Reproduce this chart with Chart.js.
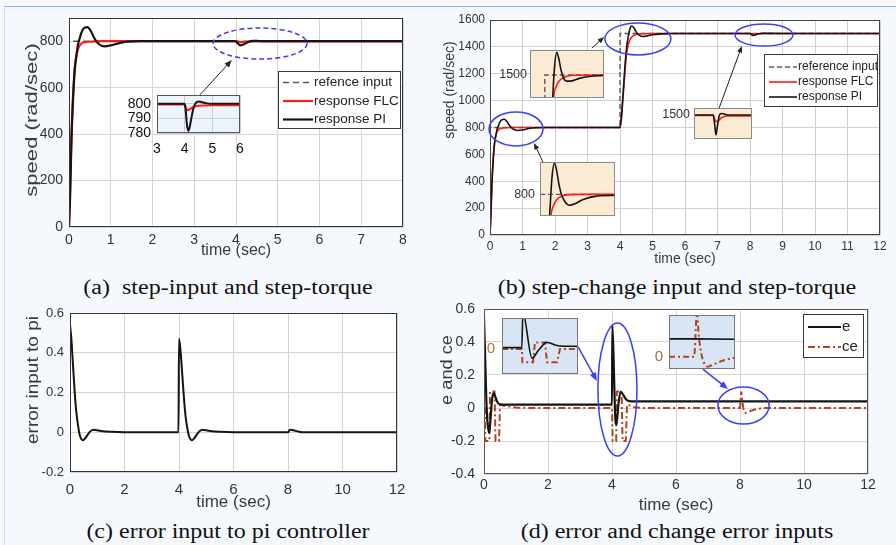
<!DOCTYPE html>
<html>
<head>
<meta charset="utf-8">
<title>speed response</title>
<script src="https://cdn.jsdelivr.net/npm/chart.js@4.4.1/dist/chart.umd.min.js"></script>
<style>
  html, body { margin: 0; padding: 0; }
  body { width: 896px; height: 545px; overflow: hidden; position: relative; background: #f5f9fd; }
  #frame { position: absolute; left: 4px; top: 6px; width: 892px; height: 539px; border-top: 1px solid #8db4e6; border-left: 1px solid #c8dbf0; }
  canvas { position: absolute; }
  .cap { position: absolute; transform: translate(-50%, -50%) scaleX(1.2); font-family: "Liberation Serif", "Times New Roman", serif; font-size: 20px; line-height: 1; color: #111; white-space: nowrap; }
</style>
</head>
<body>
<div id="frame"></div>
<div class="cap" style="left:228px;top:287px">(a)&nbsp; step-input and step-torque</div>
<div class="cap" style="left:677px;top:287px">(b) step-change input and step-torque</div>
<div class="cap" style="left:228px;top:531px">(c) error input to pi controller</div>
<div class="cap" style="left:677px;top:531px">(d) error and change error inputs</div>
<script>
// (a) step input, torque step at 4 s
const tRefA = [0, 0, 8];
const vRefA = [0, 800, 800];
const tFlcA = [0, 0.03, 0.06, 0.1, 0.14, 0.18, 0.22, 0.27, 0.32, 0.4, 0.5, 0.65, 0.8, 4.0, 4.06, 4.12, 4.25, 4.45, 4.8, 8];
const vFlcA = [0, 200, 400, 580, 690, 740, 768, 785, 792, 796, 798, 799.5, 800, 800, 797, 796.5, 797.8, 798.8, 799.5, 799.6];
const tPiA = [0, 0.03, 0.06, 0.1, 0.14, 0.18, 0.22, 0.26, 0.3, 0.35, 0.44, 0.52, 0.6, 0.7, 0.85, 1.0, 1.2, 1.4, 1.7, 3.98, 4.04, 4.1, 4.18, 4.28, 4.4, 4.55, 4.8, 8];
const vPiA = [0, 150, 380, 560, 680, 740, 790, 815, 838, 855, 861, 845, 815, 790, 778, 782, 792, 798, 800, 800, 792, 782, 786, 796, 801.5, 801, 800, 800];
// inset of (a): 3..6 s
const tFlcAz = [3, 4.0, 4.05, 4.12, 4.2, 4.3, 4.45, 4.7, 5.0, 6];
const vFlcAz = [799.5, 799.5, 797, 795.5, 796.5, 797.6, 798.5, 798.9, 799, 799];
const tPiAz = [3, 4.0, 4.04, 4.08, 4.13, 4.18, 4.25, 4.32, 4.4, 4.5, 4.6, 4.75, 4.95, 6];
const vPiAz = [800, 800, 795, 786, 781.5, 784, 791, 797, 800.5, 801.6, 801.2, 800.5, 800, 800];
const xTicksA = [0, 1, 2, 3, 4, 5, 6, 7, 8];
const yTicksA = [0, 200, 400, 600, 800];
const xTicksAz = [3, 4, 5, 6];
const yTicksAz = [780, 790, 800];

// (b) step change 800 -> 1500 at 4 s, torque step at 8 s
const tRefB = [0, 0, 4, 4, 12];
const vRefB = [0, 800, 800, 1500, 1500];
const tFlcB = [0, 0.03, 0.06, 0.1, 0.14, 0.18, 0.22, 0.27, 0.32, 0.4, 0.5, 0.65, 0.8, 4.0, 4.04, 4.08, 4.12, 4.16, 4.2, 4.25, 4.3, 4.38, 4.5, 4.7, 5.0, 8.0, 8.05, 8.15, 8.3, 8.6, 12];
const vFlcB = [0, 200, 400, 580, 690, 740, 768, 785, 792, 796, 798, 799.5, 800, 800, 860, 980, 1110, 1240, 1340, 1410, 1450, 1478, 1492, 1498, 1500, 1500, 1497, 1496.5, 1498.5, 1499.8, 1500];
const tPiB = [0, 0.03, 0.06, 0.1, 0.14, 0.18, 0.22, 0.26, 0.3, 0.35, 0.44, 0.52, 0.6, 0.7, 0.85, 1.0, 1.2, 1.4, 1.7, 4.0, 4.04, 4.08, 4.12, 4.16, 4.2, 4.25, 4.3, 4.36, 4.42, 4.5, 4.6, 4.7, 4.85, 5.0, 5.3, 5.6, 8.0, 8.04, 8.1, 8.18, 8.28, 8.4, 8.6, 9, 12];
const vPiB = [0, 150, 380, 560, 680, 740, 790, 815, 838, 855, 861, 845, 815, 790, 778, 782, 792, 798, 800, 800, 870, 1000, 1140, 1280, 1390, 1470, 1530, 1555, 1545, 1510, 1485, 1477, 1482, 1490, 1497, 1500, 1500, 1493, 1485, 1490, 1498, 1501, 1500.5, 1500, 1500];
// insets of (b)
const tRefB1 = [3.7, 4.0, 4.0, 5.2];
const vRefB1 = [800, 800, 1500, 1500];
const tFlcB1 = [4.14, 4.18, 4.22, 4.26, 4.3, 4.36, 4.45, 4.6, 5.2];
const vFlcB1 = [1300, 1430, 1458, 1473, 1482, 1490, 1496, 1499, 1500];
const tPiB1 = [4.12, 4.16, 4.2, 4.24, 4.28, 4.33, 4.38, 4.45, 4.55, 4.7, 4.9, 5.2];
const vPiB1 = [1200, 1420, 1530, 1573, 1555, 1515, 1490, 1480, 1481, 1489, 1495, 1498];
const tRefB2 = [0.2, 1.7];
const vRefB2 = [800, 800];
const tFlcB2 = [0.38, 0.414, 0.45, 0.5, 0.55, 0.63, 0.73, 1.0, 1.7];
const vFlcB2 = [720, 756, 772, 784, 791, 796, 799, 800, 800];
const tPiB2 = [0.36, 0.4, 0.44, 0.49, 0.53, 0.58, 0.63, 0.7, 0.785, 0.9, 1.05, 1.3, 1.7];
const vPiB2 = [700, 770, 835, 864, 850, 820, 800, 785, 778, 781, 789, 796, 798];
const tFlcB3 = [7.5, 8.0, 8.05, 8.1, 8.2, 8.35, 9];
const vFlcB3 = [1499.5, 1499.5, 1494, 1493.5, 1497, 1499, 1499];
const tPiB3 = [7.5, 8.0, 8.03, 8.07, 8.11, 8.15, 8.2, 8.28, 8.4, 9];
const vPiB3 = [1500, 1500, 1492, 1480, 1490, 1499, 1501.5, 1501, 1500, 1500];
const xTicksB = [0, 1, 2, 3, 4, 5, 6, 7, 8, 9, 10, 11, 12];
const yTicksB = [0, 200, 400, 600, 800, 1000, 1200, 1400, 1600];

// (c) error input to pi
const tEC = [0, 0.05, 0.1, 0.15, 0.2, 0.25, 0.3, 0.35, 0.42, 0.48, 0.55, 0.65, 0.75, 0.88, 1.0, 1.2, 1.5, 2.0, 3.98, 4.0, 4.05, 4.1, 4.15, 4.2, 4.25, 4.3, 4.35, 4.42, 4.48, 4.55, 4.65, 4.75, 4.88, 5.0, 5.2, 5.5, 6.0, 8.0, 8.05, 8.12, 8.25, 8.4, 8.6, 12];
const vEC = [0.54, 0.47, 0.36, 0.25, 0.15, 0.08, 0.03, -0.01, -0.035, -0.04, -0.032, -0.012, 0.005, 0.012, 0.01, 0.005, 0.002, 0, 0, 0.47, 0.42, 0.33, 0.23, 0.14, 0.07, 0.025, -0.01, -0.035, -0.04, -0.032, -0.012, 0.005, 0.012, 0.01, 0.005, 0.002, 0, 0, 0.01, 0.013, 0.008, 0.003, 0, 0];
const xTicksC = [0, 2, 4, 6, 8, 10, 12];
const yTicksC = [-0.2, 0, 0.2, 0.4, 0.6];

// (d) e and ce
const tED = [0, 0.03, 0.07, 0.1, 0.16, 0.2, 0.25, 0.3, 0.35, 0.42, 0.5, 0.7, 4.0, 4.01, 4.05, 4.1, 4.14, 4.2, 4.27, 4.35, 4.45, 4.6, 12];
const vED = [0.545, 0.35, 0.07, -0.06, -0.15, -0.08, 0.05, 0.09, 0.07, 0.035, 0.022, 0.02, 0.02, 0.5, 0.3, -0.05, -0.1, 0.02, 0.1, 0.08, 0.05, 0.04, 0.04];
const tCeD = [0, 0.03, 0.04, 0.17, 0.19, 0.33, 0.36, 0.47, 0.5, 0.7, 1.0, 1.5, 4.0, 4.02, 4.13, 4.15, 4.3, 4.33, 4.43, 4.47, 4.7, 5.0, 8.0, 8.04, 8.08, 8.12, 8.18, 8.3, 8.45, 8.7, 12];
const vCeD = [0, 0, -0.2, -0.2, 0.1, 0.1, -0.2, -0.2, 0.02, 0.01, 0.003, 0, 0, -0.2, -0.2, 0.1, 0.1, -0.2, -0.2, 0.02, 0.005, 0, 0, 0.1, 0.03, -0.02, -0.03, -0.02, -0.01, 0, 0];
// insets of (d)
const tED1 = [3.7, 3.96, 3.975, 4.095, 4.18, 4.29, 4.4, 4.46, 4.7];
const vED1 = [0.02, 0.02, 0.55, -0.14, -0.02, 0.1, 0.06, 0.045, 0.04];
const tCeD1 = [3.7, 3.963, 3.968, 4.108, 4.134, 4.266, 4.292, 4.424, 4.463, 4.7];
const vCeD1 = [0, 0, -0.2, -0.2, 0.1, 0.1, -0.2, -0.2, 0, 0];
const tED2 = [7.6, 8.02, 8.6];
const vED2 = [0.04, 0.04, 0.039];
const tCeD2 = [7.6, 7.98, 8.024, 8.05, 8.1, 8.15, 8.18, 8.3, 8.45, 8.6];
const vCeD2 = [0, 0, 0.1, 0.05, 0.0, -0.018, -0.022, -0.015, -0.007, -0.002];
const xTicksD = [0, 2, 4, 6, 8, 10, 12];
const yTicksD = [-0.4, -0.2, 0, 0.2, 0.4, 0.6];

Chart.defaults.font.family = '"Liberation Sans", Arial, Helvetica, sans-serif';
const FONT = '"Liberation Sans", Arial, sans-serif';
const RED = '#ff1a1a', BLACK = '#141414', REF = '#5a5a5a', BROWN = '#b0451c', BLUE = '#3b3ff2';
const PAD = 22; // room round every plot so tick labels never push the plot area

const xy = (ts, vs) => ts.map((t, i) => ({ x: t, y: vs[i] }));
function line(label, ts, vs, color, width, extra) {
  return Object.assign({ label, data: xy(ts, vs), borderColor: color, borderWidth: width,
    pointRadius: 0, fill: false, tension: 0, clip: 0 }, extra || {});
}
const smooth = { cubicInterpolationMode: 'monotone' };

function arrow(ctx, x0, y0, x1, y1, color, width, head) {
  const a = Math.atan2(y1 - y0, x1 - x0);
  ctx.strokeStyle = color; ctx.fillStyle = color; ctx.lineWidth = width;
  ctx.beginPath(); ctx.moveTo(x0, y0);
  ctx.lineTo(x1 - Math.cos(a) * head * 0.7, y1 - Math.sin(a) * head * 0.7); ctx.stroke();
  ctx.beginPath(); ctx.moveTo(x1, y1);
  ctx.lineTo(x1 - head * Math.cos(a - 0.38), y1 - head * Math.sin(a - 0.38));
  ctx.lineTo(x1 - head * Math.cos(a + 0.38), y1 - head * Math.sin(a + 0.38));
  ctx.closePath(); ctx.fill();
}

function drawLegend(chart, d) {
  const L = d.legend, ctx = chart.ctx;
  const x = L.x - d.ox, y = L.y - d.oy;
  ctx.fillStyle = '#fff'; ctx.fillRect(x, y, L.w, L.h);
  ctx.strokeStyle = '#3a3a3a'; ctx.lineWidth = 1; ctx.strokeRect(x + 0.5, y + 0.5, L.w, L.h);
  ctx.font = L.size + 'px ' + FONT;
  ctx.textBaseline = 'middle'; ctx.textAlign = 'left';
  L.rows.forEach((i, k) => {
    const ds = chart.data.datasets[i], ry = y + L.first + k * L.gap;
    ctx.strokeStyle = ds.borderColor; ctx.lineWidth = ds.borderWidth; ctx.setLineDash(ds.borderDash || []);
    ctx.beginPath(); ctx.moveTo(x + L.l0, ry); ctx.lineTo(x + L.l1, ry); ctx.stroke();
    ctx.setLineDash([]); ctx.fillStyle = '#222'; ctx.fillText(ds.label, x + L.l1 + 1, ry);
  });
}

// rotated y-axis title, placed where the original figure has it
function drawYTitle(chart, d) {
  const T = d.yTitle, ctx = chart.ctx;
  ctx.save();
  ctx.translate(T.x - d.ox, T.y - d.oy);
  ctx.rotate(-Math.PI / 2);
  ctx.scale(T.stretch || 1, 1);
  ctx.font = T.size + 'px ' + FONT;
  ctx.fillStyle = '#3a3a3a'; ctx.textAlign = 'center'; ctx.textBaseline = 'middle';
  ctx.fillText(T.text, 0, 0);
  ctx.restore();
}

const decos = {};
const decoPlugin = {
  id: 'deco',
  beforeDraw(chart) {
    const d = decos[chart.canvas.id], a = chart.chartArea, ctx = chart.ctx;
    ctx.save();
    ctx.fillStyle = d.bg || '#fff';
    ctx.fillRect(a.left, a.top, a.right - a.left, a.bottom - a.top);
    ctx.restore();
  },
  afterDraw(chart) {
    const d = decos[chart.canvas.id], a = chart.chartArea, ctx = chart.ctx;
    const sx = chart.scales.x, sy = chart.scales.y;
    const px = t => sx.getPixelForValue(t), py = v => sy.getPixelForValue(v);
    ctx.save();
    ctx.strokeStyle = d.frame || '#333'; ctx.lineWidth = 1; ctx.setLineDash([]);
    ctx.strokeRect(a.left + 0.5, a.top + 0.5, a.right - a.left - 1, a.bottom - a.top - 1);
    (d.ellipses || []).forEach(e => {
      const cx = px(e.t), cy = py(e.v);
      ctx.beginPath();
      ctx.ellipse(cx, cy, Math.abs(px(e.t + e.rt) - cx), Math.abs(py(e.v + e.rv) - cy), 0, 0, Math.PI * 2);
      ctx.strokeStyle = e.color; ctx.lineWidth = e.width || 1.5; ctx.setLineDash(e.dash || []);
      ctx.stroke();
    });
    ctx.setLineDash([]);
    (d.arrows || []).forEach(r => arrow(ctx, px(r.t0), py(r.v0), px(r.t1), py(r.v1), r.color, r.width || 1, r.head || 7));
    if (d.legend) drawLegend(chart, d);
    if (d.yTitle) drawYTitle(chart, d);
    ctx.restore();
  }
};

function scale(a, dir, size) {
  return {
    type: 'linear', min: a.min, max: a.max, display: !a.hidden,
    afterBuildTicks: sc => { if (a.ticks) sc.ticks = a.ticks.map(v => ({ value: v })); },
    afterFit: sc => { if (dir === 'x') sc.height = size; else sc.width = size; },
    ticks: { color: a.color || '#333', font: { size: a.size || 13 }, padding: a.pad == null ? 5 : a.pad,
      maxRotation: 0, autoSkip: false, callback: v => String(v) },
    grid: { display: !!a.grid, color: a.grid, drawTicks: false },
    border: { display: false },
    title: a.title ? { display: true, text: a.title, padding: 0, color: '#3a3a3a',
      font: { size: a.titleSize || 15 }, align: a.titleAlign || 'center' } : { display: false }
  };
}

function plot(id, box, s) {
  const pad = PAD, xH = s.xH || 0;
  const left = box.l - s.yW - pad, top = box.t - pad;
  const w = box.r - box.l + s.yW + 2 * pad, h = box.b - box.t + xH + 2 * pad;
  const cv = document.createElement('canvas');
  cv.id = id; cv.width = w; cv.height = h;
  Object.assign(cv.style, { left: left + 'px', top: top + 'px', width: w + 'px', height: h + 'px' });
  document.body.appendChild(cv);
  decos[id] = Object.assign({ ox: left, oy: top }, s);
  return new Chart(cv, {
    type: 'line',
    data: { datasets: s.datasets },
    options: {
      responsive: false, animation: false, events: [],
      layout: { padding: pad },
      plugins: { legend: { display: false }, tooltip: { enabled: false } },
      scales: { x: scale(s.x, 'x', xH), y: scale(s.y, 'y', s.yW) }
    },
    plugins: [decoPlugin]
  });
}

// ---------- (a) ----------
plot('chartA', { l: 69, t: 18, r: 403, b: 227 }, {
  yW: 46, xH: 33, frame: '#333',
  x: { min: 0, max: 8, ticks: xTicksA, size: 14, pad: 5, grid: '#d6d6d6', title: 'time (sec)', titleSize: 16 },
  y: { min: 0, max: 900, ticks: yTicksA, size: 14, pad: 6, grid: '#d6d6d6' },
  yTitle: { text: 'speed (rad/sec)', x: 32, y: 120, size: 17, stretch: 1.3 },
  datasets: [
    line('response PI', tPiA, vPiA, BLACK, 2.2, smooth),
    line('response FLC', tFlcA, vFlcA, RED, 2.2, smooth),
    line('refence input', tRefA, vRefA, REF, 1.5, { borderDash: [6, 4] })
  ],
  legend: { x: 278, y: 71, w: 122, h: 57, first: 11.5, gap: 18.5, l0: 5, l1: 35, size: 13.5, rows: [2, 1, 0] },
  ellipses: [{ t: 4.575, v: 790, rt: 1.126, rv: 67, color: BLUE, dash: [5, 3], width: 1.5 }],
  arrows: [{ t0: 3.09, v0: 560, t1: 3.9, v1: 719, color: '#222', width: 1, head: 8 }]
});
plot('insetA', { l: 157, t: 95, r: 240, b: 133 }, {
  yW: 38, xH: 26, bg: '#eef4fb', frame: '#555',
  x: { min: 3, max: 6, ticks: xTicksAz, size: 14, pad: 8, color: '#111', grid: '#c9ced6' },
  y: { min: 780, max: 806, ticks: yTicksAz, size: 14, pad: 6, color: '#111', grid: '#c9ced6' },
  datasets: [
    line('response PI', tPiAz, vPiAz, BLACK, 2, smooth),
    line('response FLC', tFlcAz, vFlcAz, RED, 2, smooth)
  ]
});

// ---------- (b) ----------
plot('chartB', { l: 490, t: 20, r: 880, b: 235 }, {
  yW: 48, xH: 33, frame: '#444',
  x: { min: 0, max: 12, ticks: xTicksB, size: 12, pad: 4, grid: '#cfcfcf', title: 'time (sec)', titleSize: 14 },
  y: { min: 0, max: 1600, ticks: yTicksB, size: 12, pad: 5, grid: '#cfcfcf' },
  yTitle: { text: 'speed (rad/sec)', x: 450, y: 90, size: 14 },
  datasets: [
    line('response PI', tPiB, vPiB, BLACK, 1.6, smooth),
    line('response FLC', tFlcB, vFlcB, RED, 1.6, smooth),
    line('reference input', tRefB, vRefB, REF, 1.4, { borderDash: [5, 3] })
  ],
  legend: { x: 764, y: 54, w: 113, h: 52, first: 13, gap: 15, l0: 5, l1: 33, size: 12, rows: [2, 1, 0] },
  ellipses: [
    { t: 0.8, v: 789, rt: 0.83, rv: 126, color: BLUE },
    { t: 4.55, v: 1459, rt: 1.015, rv: 119, color: BLUE },
    { t: 8.43, v: 1488, rt: 0.89, rv: 82, color: BLUE }
  ],
  arrows: [
    { t0: 3.14, v0: 1392, t1: 3.51, v1: 1473, color: '#222', width: 1, head: 7 },
    { t0: 1.63, v0: 543, t1: 1.354, v1: 685, color: '#222', width: 1, head: 7 },
    { t0: 7.05, v0: 945, t1: 7.75, v1: 1407, color: '#222', width: 1, head: 7 }
  ]
});
plot('insetB1', { l: 530, t: 50, r: 604, b: 98 }, {
  yW: 34, bg: '#fcebd3', frame: '#8a8a8a',
  x: { min: 3.7, max: 5.2, hidden: true },
  y: { min: 1426, max: 1580, ticks: [1500], size: 12.5, pad: 3 },
  datasets: [
    line('response PI', tPiB1, vPiB1, BLACK, 1.6, smooth),
    line('response FLC', tFlcB1, vFlcB1, RED, 1.6, smooth),
    line('reference input', tRefB1, vRefB1, REF, 1.4, { borderDash: [5, 3] })
  ]
});
plot('insetB2', { l: 540, t: 162, r: 615, b: 216 }, {
  yW: 30, bg: '#fcebd3', frame: '#8a8a8a',
  x: { min: 0.2, max: 1.7, hidden: true },
  y: { min: 756, max: 866, ticks: [800], size: 12.5, pad: 5 },
  datasets: [
    line('response PI', tPiB2, vPiB2, BLACK, 1.6, smooth),
    line('response FLC', tFlcB2, vFlcB2, RED, 1.6, smooth),
    line('reference input', tRefB2, vRefB2, REF, 1.4, { borderDash: [5, 3] })
  ]
});
plot('insetB3', { l: 694, t: 108, r: 752, b: 139 }, {
  yW: 34, bg: '#fcebd3', frame: '#8a8a8a',
  x: { min: 7.5, max: 9.0, hidden: true },
  y: { min: 1476, max: 1507, ticks: [1500], size: 12.5, pad: 4 },
  datasets: [
    line('response PI', tPiB3, vPiB3, BLACK, 1.6, smooth),
    line('response FLC', tFlcB3, vFlcB3, RED, 1.6, smooth)
  ]
});

// ---------- (c) ----------
plot('chartC', { l: 70, t: 313, r: 397, b: 472 }, {
  yW: 46, xH: 41, frame: '#333',
  x: { min: 0, max: 12, ticks: xTicksC, size: 15, pad: 9, grid: '#d3d3d3', title: 'time (sec)', titleSize: 17 },
  y: { min: -0.2, max: 0.6, ticks: yTicksC, size: 13, pad: 6, grid: '#d3d3d3' },
  yTitle: { text: 'error input to pi', x: 33, y: 380, size: 17, stretch: 1.12 },
  datasets: [line('e', tEC, vEC, BLACK, 2, smooth)]
});

// ---------- (d) ----------
plot('chartD', { l: 484, t: 309, r: 868, b: 474 }, {
  yW: 46, xH: 42, frame: '#555',
  x: { min: 0, max: 12, ticks: xTicksD, size: 14, pad: 3, grid: '#d6d6d6', title: 'time (sec)', titleSize: 17 },
  y: { min: -0.4, max: 0.6, ticks: yTicksD, size: 14, pad: 9, grid: '#d6d6d6' },
  yTitle: { text: 'e and ce', x: 447, y: 370, size: 17, stretch: 1.07 },
  datasets: [
    line('e', tED, vED, BLACK, 2.2, smooth),
    line('ce', tCeD, vCeD, BROWN, 2, { borderDash: [7, 3, 2, 3] })
  ],
  legend: { x: 803, y: 314, w: 60, h: 43, first: 13, gap: 20, l0: 5, l1: 38, size: 15, rows: [0, 1] },
  ellipses: [
    { t: 4.17, v: 0.112, rt: 0.61, rv: 0.403, color: BLUE },
    { t: 8.11, v: 0.015, rt: 0.8, rv: 0.112, color: BLUE }
  ],
  arrows: [
    { t0: 2.94, v0: 0.37, t1: 3.53, v1: 0.164, color: BLUE, width: 1.5, head: 9 },
    { t0: 6.84, v0: 0.236, t1: 7.625, v1: 0.115, color: BLUE, width: 1.5, head: 9 }
  ]
});
plot('insetD1', { l: 502, t: 318, r: 578, b: 374 }, {
  yW: 20, bg: '#d8e5f4', frame: '#777',
  x: { min: 3.7, max: 4.7, hidden: true },
  y: { min: -0.38, max: 0.47, ticks: [0], size: 15, pad: 7, color: '#b8742f' },
  datasets: [
    line('e', tED1, vED1, BLACK, 1.6, smooth),
    line('ce', tCeD1, vCeD1, BROWN, 2, { borderDash: [6, 3, 2, 3] })
  ]
});
plot('insetD2', { l: 669, t: 315, r: 735, b: 369 }, {
  yW: 20, bg: '#d8e5f4', frame: '#777',
  x: { min: 7.6, max: 8.6, hidden: true },
  y: { min: -0.027, max: 0.093, ticks: [0], size: 15, pad: 6, color: '#a0704a' },
  datasets: [
    line('e', tED2, vED2, BLACK, 1.6),
    line('ce', tCeD2, vCeD2, BROWN, 2, Object.assign({ borderDash: [6, 3, 2, 3] }, smooth))
  ]
});
</script>
</body>
</html>
